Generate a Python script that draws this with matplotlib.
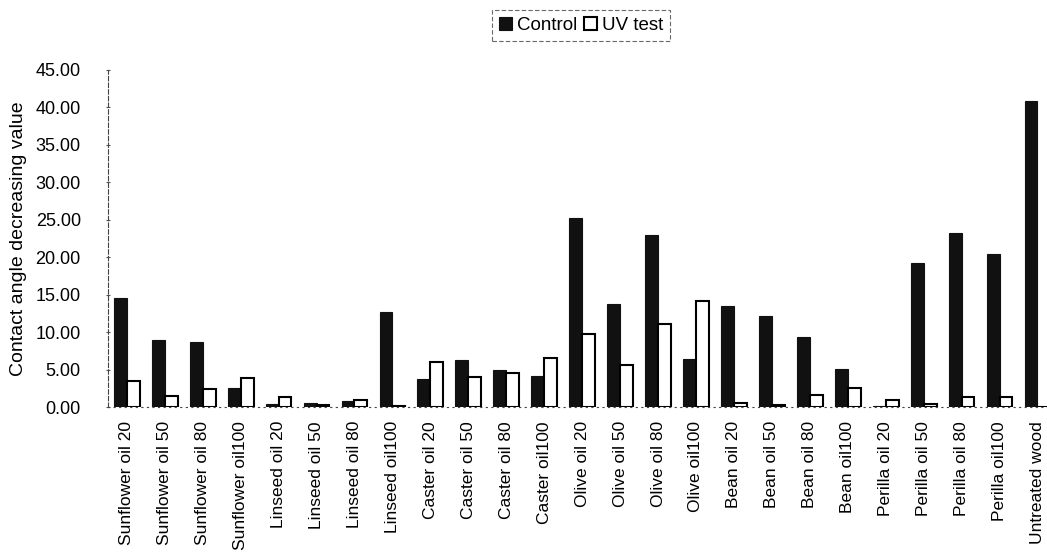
import matplotlib.pyplot as plt
import numpy as np

plt.rcParams['font.family'] = ['Liberation Sans', 'DejaVu Sans']

amostras = ['Sunflower oil 20', 'Sunflower oil 50', 'Sunflower oil 80', 'Sunflower oil100',
            'Linseed oil 20', 'Linseed oil 50', 'Linseed oil 80', 'Linseed oil100',
            'Caster oil 20', 'Caster oil 50', 'Caster oil 80', 'Caster oil100',
            'Olive oil 20', 'Olive oil 50', 'Olive oil 80', 'Olive oil100',
            'Bean oil 20', 'Bean oil 50', 'Bean oil 80', 'Bean oil100',
            'Perilla oil 20', 'Perilla oil 50', 'Perilla oil 80', 'Perilla oil100',
            'Untreated wood']
controle = [14.6, 8.9, 8.7, 2.6,
            0.4, 0.5, 0.8, 12.7,
            3.8, 6.3, 5.0, 4.2,
            25.2, 13.7, 23.0, 6.4,
            13.5, 12.2, 9.4, 5.1,
            0.1, 19.3, 23.2, 20.5,
            40.8]
uv = [3.5, 1.5, 2.4, 3.9,
      1.4, 0.3, 0.9, 0.2,
      6.0, 4.0, 4.5, 6.5,
      9.8, 5.6, 11.1, 14.1,
      0.6, 0.3, 1.6, 2.6,
      1.0, 0.4, 1.4, 1.4,
      0.0]
yticks = [0, 5, 10, 15, 20, 25, 30, 35, 40, 45]

fig = plt.figure(figsize=(10.47, 5.6), dpi=100)
ax = fig.add_axes([0.103, 0.273, 0.906, 0.602])

x = np.arange(len(amostras))
w = 0.34
ax.bar(x - w / 2, controle, w, color='#111111', edgecolor='#111111', linewidth=0.8, label='Control')
ax.bar(x + w / 2, uv, w, color='white', edgecolor='black', linewidth=1.5, label='UV test')

ax.set_xlim(-0.5, len(amostras) - 0.5)
ax.set_ylim(0, 45)
ax.set_yticks(yticks)
ax.set_yticklabels(['%.2f' % v for v in yticks], fontsize=13)
ax.set_xticks(x)
ax.set_xticklabels(amostras, rotation=90, fontsize=12.5)
ax.tick_params(axis='x', length=0, pad=10)
ax.tick_params(axis='y', length=3, direction='inout', color='#555555', pad=18)

for lado in ['top', 'right']:
    ax.spines[lado].set_visible(False)
ax.spines['left'].set_linestyle((0, (4, 2)))
ax.spines['left'].set_color('#444444')
ax.spines['left'].set_linewidth(0.8)
ax.spines['bottom'].set_linestyle((0, (1, 4)))
ax.spines['bottom'].set_color('#444444')

ax.set_ylabel('Contact angle decreasing value', fontsize=14, labelpad=6)

leg = fig.legend(loc='upper center', bbox_to_anchor=(0.555, 0.998), ncol=2, fontsize=13.5,
                 handlelength=0.7, handleheight=0.7, handletextpad=0.25, columnspacing=0.4,
                 borderpad=0.35, fancybox=False, edgecolor='#444444')
leg.get_frame().set_linestyle((0, (4, 2)))
leg.get_frame().set_linewidth(0.8)

plt.savefig('out.png', dpi=100)
